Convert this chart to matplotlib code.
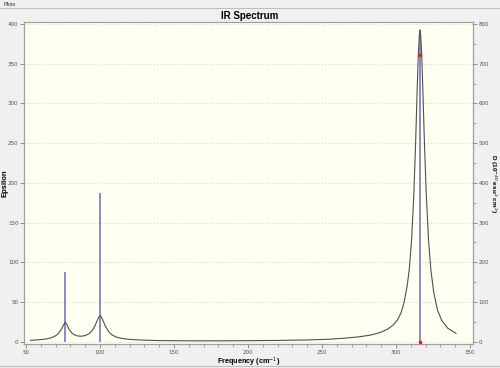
import matplotlib.pyplot as plt
from matplotlib.ticker import MultipleLocator

# spectrum curve (frequency in cm-1, epsilon)
freq = [53, 58, 63, 67, 70, 72, 74, 75.5, 76.6, 77.7, 79, 81, 83, 85, 87.5,
        90, 92.5, 94.5, 96.5, 98, 99.2, 100.1, 101, 102.2, 104, 106, 108, 111,
        115, 120, 130, 140, 160, 180, 200, 220, 240, 255, 265, 275, 283, 289,
        294, 298, 301, 303.5, 305.5, 307.5, 309, 310.5, 312, 313.2, 314.2, 315,
        315.7, 316.2, 316.7, 317.4, 318.2, 319.2, 320.4, 321.9, 323.5, 325.5,
        328, 331, 335, 340.5]
epsilon = [1.8, 2.4, 3.3, 5.0, 7.5, 10.5, 16.0, 21.5, 24.5, 21.5, 16.0, 11.0,
           8.5, 7.3, 7.0, 7.8, 10.0, 13.5, 19.5, 26.0, 31.0, 33.0, 31.0, 26.0,
           18.5, 12.5, 8.8, 6.0, 4.2, 3.0, 2.0, 1.5, 1.2, 1.2, 1.4, 1.7, 2.3,
           3.2, 4.5, 6.2, 8.5, 11.5, 15.5, 21.0, 27.5, 37.0, 50.0, 70.0, 92.0,
           128.0, 184.0, 248.0, 312.0, 358.0, 385.0, 393.0, 386.0, 360.0, 313.0,
           250.0, 187.0, 130.0, 91.0, 62.0, 40.0, 26.5, 17.0, 10.6]

# stick spectrum (dipole strength, right axis)
stick_freq = [76.6, 100.1, 316.2]
stick_d = [176, 374, 786]

# selected point markers
mark_freq = [316.2, 316.2]
mark_eps = [361, 0]

fig = plt.figure(figsize=(5, 3.68), dpi=100, facecolor='#f0f0f0')
ax = fig.add_axes([0.048, 0.065, 0.898, 0.875])
ax2 = ax.twinx()

# right axis sits behind: carries background, grid and sticks
ax.set_zorder(ax2.get_zorder() + 1)
ax.patch.set_visible(False)
ax2.patch.set_visible(True)
ax2.patch.set_facecolor('#fffff2')

for s in list(ax.spines.values()) + list(ax2.spines.values()):
    s.set_color('#a0a0a0')

ax2.set_axisbelow(True)
ax2.vlines(stick_freq, 0, stick_d, color='#8888cc', lw=1.4, zorder=2)
ax.plot(freq, epsilon, color='#505050', lw=0.8, zorder=3)
ax.plot(mark_freq, mark_eps, 's', color='#dd2222', ms=1.8, zorder=4,
        clip_on=False)

ax.set_xlim(48.7, 352)
ax.set_ylim(-2.9, 402.5)
ax2.set_ylim(-5.8, 805)

ax.xaxis.set_major_locator(MultipleLocator(50))
ax.xaxis.set_minor_locator(MultipleLocator(10))
ax.yaxis.set_major_locator(MultipleLocator(50))
ax2.yaxis.set_major_locator(MultipleLocator(100))
ax2.yaxis.set_minor_locator(MultipleLocator(50))

ax2.grid(True, which='major', axis='y', color='#d8d8cc', ls=':', lw=0.8)
ax2.xaxis.grid(True, which='major', color='#d8d8cc', ls=':', lw=0.8)
for a in (ax, ax2):
    a.tick_params(which='both', labelsize=4, colors='#808080',
                  labelcolor='#505050', direction='out')
    a.tick_params(which='major', length=3, width=0.6, pad=1)
    a.tick_params(which='minor', length=2, width=0.5)

bold = dict(fontweight='bold', family='Liberation Sans')
ax.set_xlabel('Frequency (cm$^{-1}$)', va='center', fontsize=5.2, **bold)
ax.xaxis.set_label_coords(0.5, -0.056)
ax.set_ylabel('Epsilon', va='center', fontsize=5.5, **bold)
ax.yaxis.set_label_coords(-0.042, 0.5)
ax2.set_ylabel('D (10$^{-40}$ esu$^2$ cm$^2$)', rotation=270, va='center',
               ha='center', fontsize=4.6, **bold)
ax2.yaxis.set_label_coords(1.044, 0.5)

fig.text(0.5, 0.957, 'IR Spectrum', ha='center', va='center',
         fontsize=7, **bold)
fig.text(0.008, 0.995, 'Plots', ha='left', va='top', fontsize=4,
         color='#303030', family='Liberation Sans')
fig.add_artist(plt.Line2D([0, 1], [0.978, 0.978], color='#c0c0c0', lw=0.8))
fig.add_artist(plt.Line2D([0, 1], [0.005, 0.005], color='#c0c0c0', lw=0.8))

fig.savefig('out.png', dpi=100, facecolor=fig.get_facecolor())
